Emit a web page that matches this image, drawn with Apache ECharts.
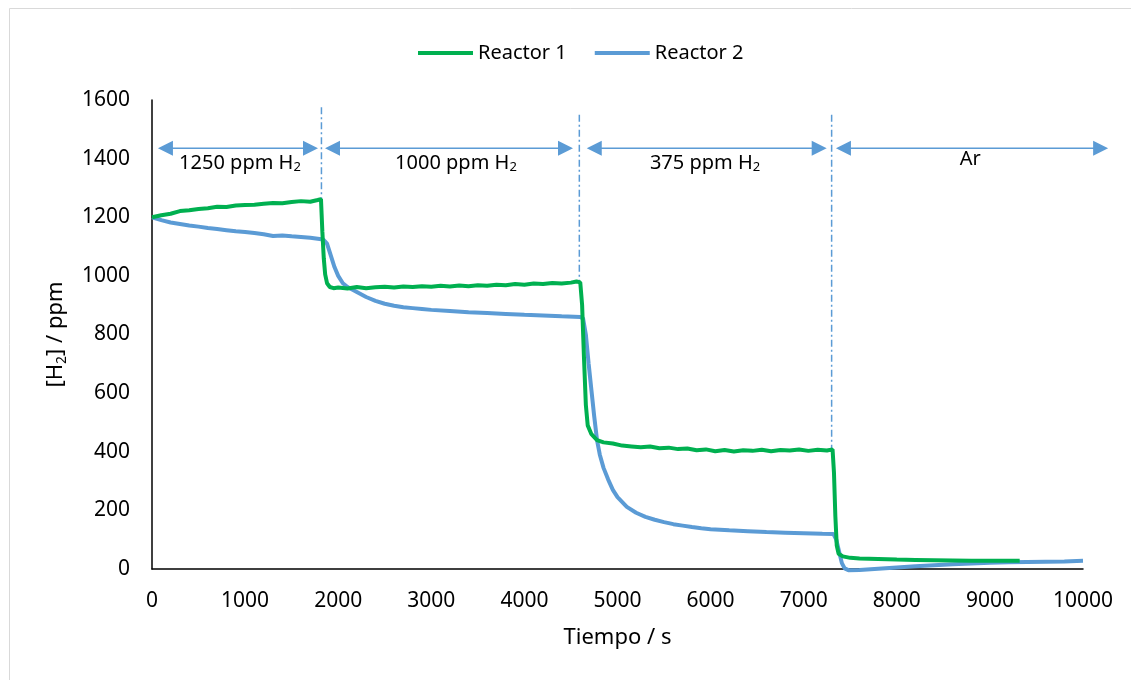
<!DOCTYPE html>
<html>
<head>
<meta charset="utf-8">
<script src="https://cdn.jsdelivr.net/npm/echarts@6/dist/echarts.min.js"></script>
<style>
  html, body { margin: 0; padding: 0; background: #fff; }
  #main { width: 1131px; height: 680px; }
</style>
</head>
<body>
<div id="main"></div>
<script>
// Reactor 1 (verde)
var r1Time = [0, 100, 200, 300, 400, 500, 600, 700, 800, 900, 1000, 1100, 1200, 1300, 1400, 1500, 1600, 1700, 1780, 1815,
  1830, 1845, 1860, 1880, 1910, 1950,
  2000, 2100, 2200, 2300, 2400, 2500, 2600, 2700, 2800, 2900, 3000, 3100, 3200, 3300, 3400, 3500, 3600, 3700, 3800, 3900,
  4000, 4100, 4200, 4300, 4400, 4500, 4560, 4600,
  4620, 4640, 4660, 4680, 4720, 4780, 4850,
  4950, 5050, 5150, 5250, 5350, 5450, 5550, 5650, 5750, 5850, 5950, 6050, 6150, 6250, 6350, 6450, 6550, 6650, 6750, 6850,
  6950, 7050, 7150, 7250, 7310,
  7325, 7340, 7355, 7375, 7420, 7500,
  7600, 7800, 8000, 8200, 8400, 8600, 8800, 9000, 9200, 9320];
var r1Val = [1200, 1207, 1212, 1221, 1224, 1228, 1231, 1236, 1235, 1240, 1242, 1243, 1246, 1249, 1248, 1252, 1255, 1253, 1259, 1262,
  1150, 1060, 1005, 975, 962, 958,
  960, 957, 962, 958, 961, 963, 960, 964, 962, 965, 963, 966, 964, 967, 965, 968, 966, 970, 968, 972,
  970, 974, 972, 976, 974, 977, 981, 978,
  900, 720, 560, 490, 460, 440, 432,
  428, 421, 418, 415, 418, 412, 414, 409, 411, 405, 408, 402, 406, 401, 405, 403, 407, 402, 406, 404,
  408, 403, 407, 404, 408,
  330, 180, 80, 52, 43, 38,
  36, 34, 32, 31, 30, 29, 28, 28, 28, 28];

// Reactor 2 (azul)
var r2Time = [0, 100, 200, 300, 400, 500, 600, 700, 800, 900, 1000, 1100, 1200, 1300, 1400, 1500, 1600, 1700, 1800, 1840,
  1880, 1920, 1960, 2000, 2050, 2100, 2200, 2300, 2400, 2500, 2600, 2700, 2800, 2900, 3000, 3200, 3400, 3600, 3800,
  4000, 4200, 4400, 4600,
  4630, 4660, 4690, 4720, 4750, 4780, 4810, 4850, 4900, 4950, 5000, 5100, 5200, 5300, 5400, 5500, 5600, 5700, 5800, 5900,
  6000, 6200, 6400, 6600, 6800, 7000, 7200, 7320,
  7350, 7380, 7410, 7440, 7480, 7600, 7800, 8000, 8200, 8400, 8600, 8800, 9000, 9200, 9400, 9600, 9800, 10000];
var r2Val = [1200, 1190, 1182, 1177, 1172, 1168, 1163, 1160, 1156, 1152, 1150, 1146, 1142, 1136, 1138, 1135, 1133, 1130, 1126, 1124,
  1110, 1070, 1030, 1000, 975, 962, 945, 928, 915, 905, 898, 893, 890, 887, 884, 880, 876, 873, 870,
  867, 865, 862, 860,
  855, 800, 700, 610, 520, 440, 390, 345, 305, 270, 245, 212, 192, 178, 168, 160, 153, 148, 143, 139,
  136, 132, 129, 126, 124, 122, 120, 119,
  100, 60, 20, 2, -4, -3, 1, 5, 9, 13, 16, 19, 21, 23, 24, 25, 26, 28];

// tramos de alimentación: inicio, fin, texto
var stageFrom = [64, 1858, 4670, 7346];
var stageTo = [1783, 4522, 7247, 10270];
var stageText = ['1250 ppm H', '1000 ppm H', '375 ppm H', 'Ar'];
var stageSub = ['2', '2', '2', ''];
var stageTextX = [945, 3265, 5940, 8790];
var stageTextY = [1385, 1385, 1385, 1398];
var arrowLevel = 1435;

// líneas verticales de cambio
var changeTime = [1820, 4590, 7300];
var changeTop = [1575, 1550, 1550];
var changeBottom = [1262, 980, 410];

var green = '#00B050';
var blue = '#5B9BD5';
var fontName = 'Noto Sans';

function pairs(t, v) {
  return t.map(function (x, i) { return [x, v[i]]; });
}

var myChart = echarts.init(document.getElementById('main'));

var option = {
  backgroundColor: '#fff',
  animation: false,
  textStyle: { fontFamily: fontName, color: '#000' },
  graphic: [{
    type: 'rect',
    shape: { x: 9.5, y: 8.5, width: 1140, height: 700 },
    style: { fill: 'none', stroke: '#d9d9d9', lineWidth: 1 },
    silent: true
  }],
  legend: {
    left: 413,
    top: 38,
    icon: 'rect',
    itemWidth: 55,
    itemHeight: 4,
    itemGap: 28,
    textStyle: { fontFamily: fontName, fontSize: 20, color: '#000' },
    data: ['Reactor 1', 'Reactor 2']
  },
  grid: {
    left: 152,
    right: 48,
    top: 100,
    bottom: 111
  },
  xAxis: {
    type: 'value',
    min: 0,
    max: 10000,
    interval: 1000,
    name: 'Tiempo / s',
    nameLocation: 'middle',
    nameGap: 58,
    nameTextStyle: { fontFamily: fontName, fontSize: 22, color: '#000' },
    axisLine: { lineStyle: { color: '#000', width: 1.5 } },
    axisTick: { show: false },
    splitLine: { show: false },
    axisLabel: {
      fontFamily: fontName, fontSize: 21, color: '#000', margin: 22,
      formatter: function (v) { return String(v); }
    }
  },
  yAxis: {
    type: 'value',
    min: 0,
    max: 1600,
    interval: 200,
    name: '{a|[H}{s|2}{a|] / ppm}',
    nameLocation: 'middle',
    nameGap: 80,
    nameTextStyle: {
      fontFamily: fontName, fontSize: 22, color: '#000',
      rich: {
        a: { fontFamily: fontName, fontSize: 22, color: '#000', lineHeight: 30, verticalAlign: 'middle' },
        s: { fontFamily: fontName, fontSize: 14, color: '#000', lineHeight: 30, verticalAlign: 'bottom', padding: [0, 0, 2, 0] }
      }
    },
    axisLine: { show: true, lineStyle: { color: '#000', width: 1.5 } },
    axisTick: { show: false },
    splitLine: { show: false },
    axisLabel: {
      fontFamily: fontName, fontSize: 21, color: '#000', margin: 22,
      formatter: function (v) { return String(v); }
    }
  },
  series: [
    {
      name: 'Reactor 1',
      type: 'line',
      symbol: 'none',
      clip: false,
      color: green,
      lineStyle: { width: 4, color: green },
      data: pairs(r1Time, r1Val),
      z: 3
    },
    {
      name: 'Reactor 2',
      type: 'line',
      symbol: 'none',
      clip: false,
      color: blue,
      lineStyle: { width: 4, color: blue },
      data: pairs(r2Time, r2Val),
      z: 2
    },
    {
      // líneas de cambio (guion-punto)
      type: 'custom',
      silent: true,
      clip: false,
      data: changeTime.map(function (t, i) { return [t, changeTop[i], changeBottom[i]]; }),
      renderItem: function (params, api) {
        var p1 = api.coord([api.value(0), api.value(1)]);
        var p2 = api.coord([api.value(0), api.value(2)]);
        return {
          type: 'line',
          shape: { x1: p1[0], y1: p1[1], x2: p2[0], y2: p2[1] },
          style: { stroke: blue, lineWidth: 1.5, lineDash: [7, 3, 2, 3], fill: null }
        };
      },
      z: 1
    },
    {
      // flechas dobles y textos de cada tramo
      type: 'custom',
      silent: true,
      clip: false,
      data: stageFrom.map(function (t, i) { return [t, stageTo[i], arrowLevel, stageTextX[i], i, stageTextY[i]]; }),
      renderItem: function (params, api) {
        var a = api.coord([api.value(0), api.value(2)]);
        var b = api.coord([api.value(1), api.value(2)]);
        var i = api.value(4);
        var tp = api.coord([api.value(3), api.value(5)]);
        var h = 15, w = 7.5;
        var txt = '{a|' + stageText[i] + '}' + (stageSub[i] ? '{s|' + stageSub[i] + '}' : '');
        return {
          type: 'group',
          children: [
            {
              type: 'line',
              shape: { x1: a[0] + h - 2, y1: a[1], x2: b[0] - h + 2, y2: b[1] },
              style: { stroke: blue, lineWidth: 1.5 }
            },
            {
              type: 'polygon',
              shape: { points: [[a[0], a[1]], [a[0] + h, a[1] - w], [a[0] + h, a[1] + w]] },
              style: { fill: blue }
            },
            {
              type: 'polygon',
              shape: { points: [[b[0], b[1]], [b[0] - h, b[1] - w], [b[0] - h, b[1] + w]] },
              style: { fill: blue }
            },
            {
              type: 'text',
              x: tp[0],
              y: tp[1],
              style: {
                text: txt,
                align: 'center',
                verticalAlign: 'middle',
                rich: {
                  a: { fontFamily: fontName, fontSize: 20, fill: '#000', lineHeight: 28, verticalAlign: 'middle' },
                  s: { fontFamily: fontName, fontSize: 13, fill: '#000', lineHeight: 28, verticalAlign: 'bottom', padding: [0, 0, 3, 0] }
                }
              }
            }
          ]
        };
      },
      z: 4
    }
  ]
};

myChart.setOption(option);
</script>
</body>
</html>
